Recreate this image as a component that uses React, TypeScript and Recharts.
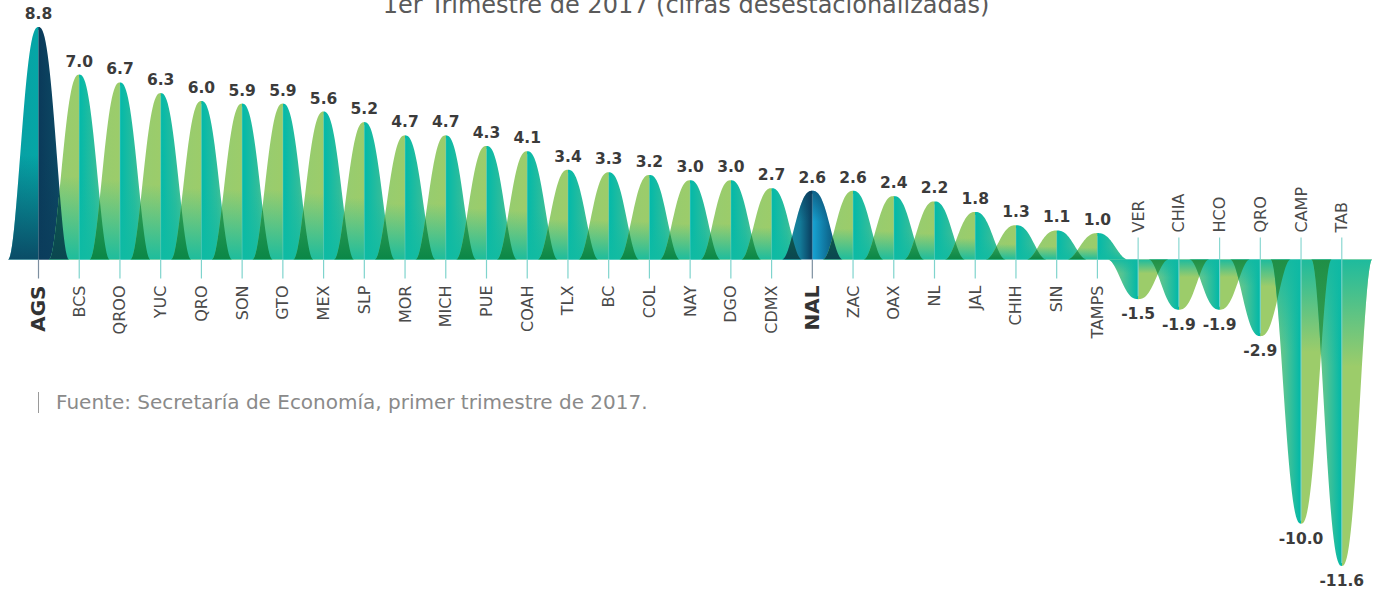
import { Bar, BarChart, LabelList, XAxis, YAxis } from "recharts";

const states = [
  "AGS", "BCS", "QROO", "YUC", "QRO", "SON", "GTO", "MEX", "SLP", "MOR", "MICH",
  "PUE", "COAH", "TLX", "BC", "COL", "NAY", "DGO", "CDMX", "NAL", "ZAC", "OAX",
  "NL", "JAL", "CHIH", "SIN", "TAMPS", "VER", "CHIA", "HCO", "QRO", "CAMP", "TAB"
];

const growth = [
  8.8, 7.0, 6.7, 6.3, 6.0, 5.9, 5.9, 5.6, 5.2, 4.7, 4.7,
  4.3, 4.1, 3.4, 3.3, 3.2, 3.0, 3.0, 2.7, 2.6, 2.6, 2.4,
  2.2, 1.8, 1.3, 1.1, 1.0, -1.5, -1.9, -1.9, -2.9, -10.0, -11.6
];

const highlighted = ["AGS", "NAL"];

const title = "1er Trimestre de 2017 (cifras desestacionalizadas)";
const source = "Fuente: Secretaría de Economía, primer trimestre de 2017.";

const chartData = states.map((state, i) => ({ state, value: growth[i] }));

const FONT = "'DejaVu Sans', sans-serif";

// Bell between base and tip; flattened raised cosine so the top is blunt.
function bellPath(cx: number, base: number, tip: number, half: number) {
  const pts: string[] = [];
  const n = 60;
  for (let i = 0; i <= n; i++) {
    const t = -1 + (2 * i) / n;
    const s = Math.pow(Math.abs(t), 1.25);
    const k = (1 + Math.cos(Math.PI * s)) / 2;
    pts.push(`${(cx + t * half).toFixed(2)},${(base + (tip - base) * k).toFixed(2)}`);
  }
  return `M${pts.join("L")}Z`;
}

function isHi(i: number) {
  if (i < 0 || i >= chartData.length) return false;
  const s = chartData[i].state;
  return highlighted.includes(s) && chartData[i].value > 0;
}

function BellShape(props: any) {
  const { x, y, width, height, index } = props;
  const v = chartData[index].value;
  const y2 = y + height;
  const pos = v >= 0;
  const base = pos ? Math.max(y, y2) : Math.min(y, y2);
  const tip = pos ? Math.min(y, y2) : Math.max(y, y2);
  const cx = x + width / 2;
  const half = width * 0.74;
  const d = bellPath(cx, base, tip, half);
  const hi = isHi(index);
  const name = chartData[index].state;

  let hFill = pos ? "url(#posH)" : "url(#negH)";
  let vFill = pos ? "url(#posV)" : "url(#negV)";
  if (hi && name === "AGS") {
    hFill = "url(#agsH)";
    vFill = "url(#agsV)";
  } else if (hi) {
    hFill = "url(#nalH)";
    vFill = "url(#nalV)";
  }

  const prev = index > 0 ? chartData[index - 1] : null;
  const sameSide = prev !== null && (prev.value >= 0) === pos;
  const wedgeFill = hi || isHi(index - 1) ? "url(#wedgeHi)" : pos ? "url(#wedgePos)" : "url(#wedgeNeg)";

  const tickColor = hi ? "#7d8fa0" : "#7fd4cd";

  return (
    <g>
      <clipPath id={`bell-clip-${index}`}>
        <path d={d} />
      </clipPath>
      <path d={d} fill={hFill} />
      <path d={d} fill={vFill} />
      {sameSide && <path d={d} fill={wedgeFill} clipPath={`url(#bell-clip-${index - 1})`} />}
      {pos ? (
        <>
          <line x1={cx} x2={cx} y1={tip + 3} y2={base} stroke={tickColor} strokeWidth={1} opacity={0.45} />
          <line x1={cx} x2={cx} y1={base} y2={base + 19} stroke={tickColor} strokeWidth={1.2} />
          <text
            x={cx}
            y={base + 26}
            transform={`rotate(-90 ${cx} ${base + 26})`}
            textAnchor="end"
            dominantBaseline="central"
            fontFamily={FONT}
            fontSize={hi ? 20 : 16}
            fontWeight={hi ? 700 : 400}
            fill={hi ? "#333" : "#4a4a4a"}
          >
            {name}
          </text>
        </>
      ) : (
        <>
          <line x1={cx} x2={cx} y1={base - 22} y2={tip - 3} stroke={tickColor} strokeWidth={1.2} opacity={0.9} />
          <text
            x={cx}
            y={base - 27}
            transform={`rotate(-90 ${cx} ${base - 27})`}
            textAnchor="start"
            dominantBaseline="central"
            fontFamily={FONT}
            fontSize={16}
            fill="#4a4a4a"
          >
            {name}
          </text>
        </>
      )}
    </g>
  );
}

function ValueLabel(props: any) {
  const vb = props.viewBox || {};
  const x = props.x ?? vb.x;
  const y = props.y ?? vb.y;
  const width = props.width ?? vb.width;
  const height = props.height ?? vb.height;
  const v = Number(props.value);
  const cx = x + width / 2;
  const top = Math.min(y, y + height);
  const bottom = Math.max(y, y + height);
  const ty = v >= 0 ? top - 8 : bottom + 20;
  return (
    <text x={cx} y={ty} textAnchor="middle" fontFamily={FONT} fontSize={15.5} fontWeight={700} fill="#3b3b3b">
      {v.toFixed(1)}
    </text>
  );
}

function Gradients() {
  return (
    <svg width={0} height={0} style={{ position: "absolute" }}>
      <defs>
        <linearGradient id="posH" x1="0" y1="0" x2="1" y2="0">
          <stop offset="0" stopColor="#93cd73" />
          <stop offset="0.495" stopColor="#9ccc6a" />
          <stop offset="0.505" stopColor="#03b9a9" />
          <stop offset="0.75" stopColor="#2fbd9b" />
          <stop offset="1" stopColor="#78c986" />
        </linearGradient>
        <linearGradient id="posV" x1="0" y1="0" x2="0" y2="1">
          <stop offset="0.55" stopColor="#10bba2" stopOpacity={0} />
          <stop offset="1" stopColor="#10bba2" stopOpacity={0.9} />
        </linearGradient>
        <linearGradient id="negH" x1="0" y1="0" x2="1" y2="0">
          <stop offset="0" stopColor="#8ccd78" />
          <stop offset="0.25" stopColor="#4fc394" />
          <stop offset="0.495" stopColor="#00b8a8" />
          <stop offset="0.505" stopColor="#9ccc6a" />
          <stop offset="1" stopColor="#9ccc6a" />
        </linearGradient>
        <linearGradient id="negV" x1="0" y1="0" x2="0" y2="1">
          <stop offset="0" stopColor="#10b9a3" stopOpacity={0.9} />
          <stop offset="0.35" stopColor="#10b9a3" stopOpacity={0} />
        </linearGradient>
        <linearGradient id="agsH" x1="0" y1="0" x2="1" y2="0">
          <stop offset="0" stopColor="#089ea3" />
          <stop offset="0.495" stopColor="#05a6a6" />
          <stop offset="0.505" stopColor="#0a3a5a" />
          <stop offset="0.8" stopColor="#0c4863" />
          <stop offset="1" stopColor="#126a78" />
        </linearGradient>
        <linearGradient id="agsV" x1="0" y1="0" x2="0" y2="1">
          <stop offset="0.55" stopColor="#0b3d5c" stopOpacity={0} />
          <stop offset="1" stopColor="#0b3d5c" stopOpacity={0.85} />
        </linearGradient>
        <linearGradient id="nalH" x1="0" y1="0" x2="1" y2="0">
          <stop offset="0" stopColor="#1c97a8" />
          <stop offset="0.3" stopColor="#137a98" />
          <stop offset="0.495" stopColor="#0a3d5e" />
          <stop offset="0.505" stopColor="#17a4d4" />
          <stop offset="0.75" stopColor="#0f6f97" />
          <stop offset="1" stopColor="#0b3e5c" />
        </linearGradient>
        <linearGradient id="nalV" x1="0" y1="0" x2="0" y2="1">
          <stop offset="0" stopColor="#0a3a5a" stopOpacity={0.6} />
          <stop offset="0.45" stopColor="#0a3a5a" stopOpacity={0} />
        </linearGradient>
        <linearGradient id="wedgePos" x1="0" y1="0" x2="0" y2="1">
          <stop offset="0.6" stopColor="#34a056" />
          <stop offset="1" stopColor="#0a8747" />
        </linearGradient>
        <linearGradient id="wedgeNeg" x1="0" y1="0" x2="0" y2="1">
          <stop offset="0" stopColor="#1f8f47" />
          <stop offset="0.45" stopColor="#44a653" />
        </linearGradient>
        <linearGradient id="wedgeHi" x1="0" y1="0" x2="0" y2="1">
          <stop offset="0.6" stopColor="#0f5a4c" />
          <stop offset="1" stopColor="#0a4650" />
        </linearGradient>
      </defs>
    </svg>
  );
}

export default function App() {
  return (
    <div style={{ position: "relative", width: 1381, height: 591, overflow: "hidden", background: "#fff" }}>
      <style>{`body{margin:0}`}</style>
      <Gradients />
      <div
        style={{
          position: "absolute",
          top: -7,
          left: 0,
          width: 1372,
          textAlign: "center",
          fontFamily: FONT,
          fontSize: 24,
          lineHeight: 1,
          color: "#5a5a5a",
          whiteSpace: "nowrap"
        }}
      >
        {title}
      </div>
      <BarChart
        width={1381}
        height={591}
        data={chartData}
        margin={{ top: 27, right: 19, bottom: 25, left: 18 }}
        barCategoryGap={0}
        barGap={0}
      >
        <XAxis hide />
        <YAxis hide domain={[-11.6, 8.8]} type="number" allowDataOverflow />
        <Bar dataKey="value" isAnimationActive={false} shape={BellShape}>
          <LabelList dataKey="value" content={ValueLabel} />
        </Bar>
      </BarChart>
      <div style={{ position: "absolute", left: 38, top: 392, width: 1, height: 21, background: "#9a9a9a" }} />
      <div
        style={{
          position: "absolute",
          left: 56,
          top: 391,
          fontFamily: FONT,
          fontSize: 20,
          lineHeight: "22px",
          color: "#8a8a8a",
          whiteSpace: "nowrap"
        }}
      >
        {source}
      </div>
    </div>
  );
}
